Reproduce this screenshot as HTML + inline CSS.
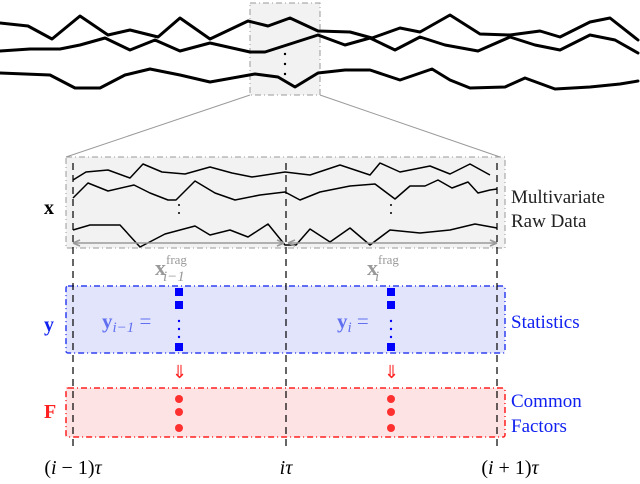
<!DOCTYPE html>
<html><head><meta charset="utf-8"><style>
body{margin:0;background:#fff}
svg{display:block}
text{font-family:"Liberation Serif",serif}
</style></head><body>
<svg width="640" height="484" viewBox="0 0 640 484">
<rect x="250" y="3" width="70" height="92" fill="#f2f2f2" stroke="#999" stroke-dasharray="6,3,1,3"/>
<g fill="none" stroke="#000" stroke-width="3" stroke-linejoin="round" stroke-linecap="round">
<polyline points="0,23 28,26 52,39 80,16 108,35 130,30 158,37 180,18 210,39 248,21 268,26 290,18 318,31 350,32 372,38 400,28 420,32 450,15 480,34 510,35 540,31 560,37 590,22 610,18 638,40"/>
<polyline points="0,51 30,49 60,49 80,45 105,38 130,50 155,40 180,51 210,43 250,52 265,52 290,44 318,35 345,45 370,38 395,50 420,37 445,45 478,51 510,37 535,45 560,50 590,35 615,40 638,53"/>
<polyline points="0,73 50,75 75,88 100,88 125,75 150,69 180,75 210,82 255,74 278,77 295,87 318,73 345,70 370,70 400,80 432,69 450,80 470,88 505,87 525,78 555,89 590,87 620,84 638,81"/>
</g>
<g fill="#000"><circle cx="285" cy="54" r="1.2"/><circle cx="285" cy="64" r="1.2"/><circle cx="285" cy="74" r="1.2"/></g>
<line x1="250" y1="95" x2="66" y2="157" stroke="#999"/>
<line x1="320" y1="95" x2="500" y2="157" stroke="#999"/>
<rect x="66" y="157" width="439" height="91" fill="#f2f2f2" stroke="#999" stroke-dasharray="6,3,1,3"/>
<g fill="none" stroke="#000" stroke-width="1.5" stroke-linejoin="round">
<polyline points="73,180 86,172 108,170 130,178 143,164 162,172 185,174 210,167 232,173 252,177 285,172 310,175 340,165 370,175 380,163 400,172 430,166 450,174 470,164 490,175"/>
<polyline points="73,198 88,183 108,191 134,185 150,193 168,200 176,200 195,181 215,193 235,200 260,195 285,192 300,200 320,192 350,186 375,184 395,199 410,186 425,186 438,180 452,188 468,182 478,193 490,190 497,189"/>
<polyline points="73,230 90,225 120,225 140,247 165,234 195,226 210,235 230,230 248,237 268,224 285,245 296,245 310,229 330,242 350,228 370,245 390,230 420,233 450,230 475,224 497,228"/>
</g>
<g fill="#000"><circle cx="179" cy="205" r="1"/><circle cx="179" cy="213" r="1"/><circle cx="391" cy="205" r="1"/><circle cx="391" cy="213" r="1"/></g>
<g stroke="#999" stroke-width="1.5" fill="none">
<line x1="73" y1="243" x2="284" y2="243"/><line x1="288" y1="243" x2="497" y2="243"/>
<path d="M73,243 l7,-3 M73,243 l7,3 M284,243 l-7,-3 M284,243 l-7,3 M288,243 l7,-3 M288,243 l7,3 M497,243 l-7,-3 M497,243 l-7,3"/>
</g>
<text x="155" y="275" font-size="22" fill="#999" font-weight="bold">x<tspan font-size="13" font-weight="normal" dy="-11">frag</tspan><tspan font-size="15" font-style="italic" font-weight="normal" dx="-24" dy="17">i−1</tspan></text>
<text x="367" y="275" font-size="22" fill="#999" font-weight="bold">x<tspan font-size="13" font-weight="normal" dy="-11">frag</tspan><tspan font-size="15" font-style="italic" font-weight="normal" dx="-24" dy="17">i</tspan></text>
<rect x="66" y="286" width="439" height="67" fill="#e2e4fc" stroke="#3040f0" stroke-width="1.5" stroke-dasharray="6,3,1,3" rx="2"/>
<g fill="#0000ff">
<rect x="175" y="288" width="8" height="8"/><rect x="175" y="301" width="8" height="8"/><rect x="175" y="343" width="8" height="8"/>
<rect x="387" y="288" width="8" height="8"/><rect x="387" y="301" width="8" height="8"/><rect x="387" y="343" width="8" height="8"/>
<circle cx="179" cy="321" r="1.2"/><circle cx="179" cy="329" r="1.2"/><circle cx="179" cy="337" r="1.2"/>
<circle cx="391" cy="321" r="1.2"/><circle cx="391" cy="329" r="1.2"/><circle cx="391" cy="337" r="1.2"/>
</g>
<text x="102" y="328" font-size="21" fill="#6070f0" font-weight="bold">y<tspan font-size="15" font-style="italic" font-weight="normal" dy="4">i−1</tspan><tspan dy="-4" font-weight="normal"> =</tspan></text>
<text x="337" y="328" font-size="21" fill="#6070f0" font-weight="bold">y<tspan font-size="15" font-style="italic" font-weight="normal" dy="4">i</tspan><tspan dy="-4" font-weight="normal"> =</tspan></text>
<text x="172" y="378" font-size="18" fill="#ff2020">⇓</text>
<text x="384" y="378" font-size="18" fill="#ff2020">⇓</text>
<rect x="66" y="388" width="439" height="49" fill="#fde3e3" stroke="#ff2020" stroke-width="1.5" stroke-dasharray="6,3,1,3" rx="2"/>
<g fill="#ff3030">
<circle cx="179" cy="399" r="4"/><circle cx="179" cy="412" r="4"/><circle cx="179" cy="428" r="4"/>
<circle cx="391" cy="399" r="4"/><circle cx="391" cy="412" r="4"/><circle cx="391" cy="428" r="4"/>
</g>
<g stroke="#000" stroke-width="1.2" stroke-dasharray="7,5">
<line x1="73" y1="163" x2="73" y2="450"/><line x1="286" y1="163" x2="286" y2="450"/><line x1="497" y1="163" x2="497" y2="450"/>
</g>
<text x="44" y="214" font-size="20" font-weight="bold">x</text>
<text x="44" y="331" font-size="20" font-weight="bold" fill="#1020f0">y</text>
<text x="44" y="418" font-size="20" font-weight="bold" fill="#ff2020">F</text>
<text x="511" y="203" font-size="19" fill="#222">Multivariate</text>
<text x="511" y="227" font-size="19" fill="#222">Raw Data</text>
<text x="511" y="328" font-size="19" fill="#1020f0">Statistics</text>
<text x="511" y="407" font-size="19" fill="#1020f0">Common</text>
<text x="511" y="432" font-size="19" fill="#1020f0">Factors</text>
<text x="73" y="474" font-size="20" text-anchor="middle">(<tspan font-style="italic">i</tspan> − 1)<tspan font-style="italic">τ</tspan></text>
<text x="286" y="474" font-size="20" text-anchor="middle"><tspan font-style="italic">iτ</tspan></text>
<text x="510" y="474" font-size="20" text-anchor="middle">(<tspan font-style="italic">i</tspan> + 1)<tspan font-style="italic">τ</tspan></text>
</svg>
</body></html>
